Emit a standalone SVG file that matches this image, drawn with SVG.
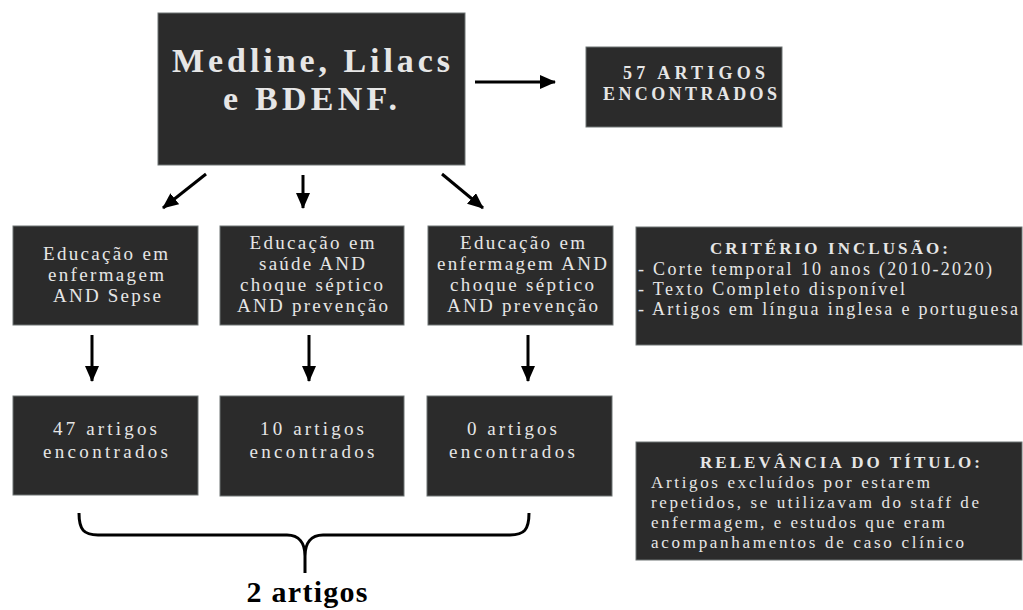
<svg xmlns="http://www.w3.org/2000/svg" width="1023" height="610" viewBox="0 0 1023 610">
<defs>
<marker id="ah" markerUnits="userSpaceOnUse" markerWidth="16" markerHeight="14" refX="15" refY="7" orient="auto">
<path d="M0,0 L16,7 L0,14 Z" fill="#000"/>
</marker>
<style>
.box{fill:#2b2b2b;stroke:#6e7474;stroke-width:1}
.t{font-family:"Liberation Serif","Times New Roman",serif;fill:#e6e6e6;text-anchor:middle;font-size:19px}
.b{font-weight:bold}
.l{text-anchor:start}
.c{stroke:#000;stroke-width:3;fill:none}
.a{stroke:#000;stroke-width:3;fill:none;marker-end:url(#ah)}
</style>
</defs>
<rect width="1023" height="610" fill="#fff"/>
<g id="main">
<rect class="box" x="158" y="13" width="307" height="152"/>
<text class="t b" x="311" y="72" textLength="278" lengthAdjust="spacing" style="font-size:34px">Medline, Lilacs</text>
<text class="t b" x="310" y="110" textLength="174" lengthAdjust="spacing" style="font-size:34px">e BDENF.</text>
</g>
<g id="total">
<rect class="box" x="586" y="47" width="196" height="80"/>
<text class="t b" x="694" y="79" textLength="142" lengthAdjust="spacing" style="font-size:18px">57 ARTIGOS</text>
<text class="t b" x="690" y="100" textLength="174" lengthAdjust="spacing" style="font-size:18px">ENCONTRADOS</text>
</g>
<g id="q1">
<rect class="box" x="13" y="226" width="185" height="99"/>
<text class="t" x="105.5" y="260" textLength="125" lengthAdjust="spacing">Educação em</text>
<text class="t" x="106" y="281" textLength="116" lengthAdjust="spacing">enfermagem</text>
<text class="t" x="107" y="302" textLength="108" lengthAdjust="spacing">AND Sepse</text>
</g>
<g id="q2">
<rect class="box" x="220" y="226" width="184" height="99"/>
<text class="t" x="312" y="249" textLength="125" lengthAdjust="spacing">Educação em</text>
<text class="t" x="312" y="270" textLength="106" lengthAdjust="spacing">saúde AND</text>
<text class="t" x="311.5" y="291" textLength="143" lengthAdjust="spacing">choque séptico</text>
<text class="t" x="312.5" y="312" textLength="151" lengthAdjust="spacing">AND prevenção</text>
</g>
<g id="q3">
<rect class="box" x="428" y="226" width="185" height="99"/>
<text class="t" x="522.5" y="249" textLength="125" lengthAdjust="spacing">Educação em</text>
<text class="t" x="522" y="270" textLength="170" lengthAdjust="spacing">enfermagem AND</text>
<text class="t" x="522" y="291" textLength="144" lengthAdjust="spacing">choque séptico</text>
<text class="t" x="522.5" y="312" textLength="151" lengthAdjust="spacing">AND prevenção</text>
</g>
<g id="criteria">
<rect class="box" x="636" y="227" width="386" height="118"/>
<text class="t b" x="829" y="254" textLength="238" lengthAdjust="spacing" style="font-size:17px">CRITÉRIO INCLUSÃO:</text>
<text class="t l" x="638" y="275" textLength="354" lengthAdjust="spacing" style="font-size:18px">- Corte temporal 10 anos (2010-2020)</text>
<text class="t l" x="638" y="295" textLength="267" lengthAdjust="spacing" style="font-size:18px">- Texto Completo disponível</text>
<text class="t l" x="638" y="315" textLength="380" lengthAdjust="spacing" style="font-size:18px">- Artigos em língua inglesa e portuguesa</text>
</g>
<g id="r1">
<rect class="box" x="13" y="396" width="185" height="99"/>
<text class="t" x="105" y="435" textLength="104" lengthAdjust="spacing">47 artigos</text>
<text class="t" x="105.5" y="458" textLength="125" lengthAdjust="spacing">encontrados</text>
</g>
<g id="r2">
<rect class="box" x="220" y="396" width="184" height="100"/>
<text class="t" x="312" y="435" textLength="104" lengthAdjust="spacing">10 artigos</text>
<text class="t" x="312" y="458" textLength="125" lengthAdjust="spacing">encontrados</text>
</g>
<g id="r3">
<rect class="box" x="427" y="396" width="185" height="100"/>
<text class="t" x="512" y="435" textLength="90" lengthAdjust="spacing">0 artigos</text>
<text class="t" x="512" y="458" textLength="126" lengthAdjust="spacing">encontrados</text>
</g>
<g id="relevance">
<rect class="box" x="636" y="442" width="386" height="118"/>
<text class="t b" x="840" y="468" textLength="280" lengthAdjust="spacing" style="font-size:17px">RELEVÂNCIA DO TÍTULO:</text>
<text class="t l" x="651" y="488" textLength="279" lengthAdjust="spacing" style="font-size:17px">Artigos excluídos por estarem</text>
<text class="t l" x="651" y="508" textLength="328" lengthAdjust="spacing" style="font-size:17px">repetidos, se utilizavam do staff de</text>
<text class="t l" x="651" y="528" textLength="294" lengthAdjust="spacing" style="font-size:17px">enfermagem, e estudos que eram</text>
<text class="t l" x="651" y="548" textLength="313" lengthAdjust="spacing" style="font-size:17px">acompanhamentos de caso clínico</text>
</g>
<g id="result">
<text x="307" y="602" text-anchor="middle" font-family="'Liberation Serif','Times New Roman',serif" font-weight="bold" font-size="30" fill="#000" textLength="121" lengthAdjust="spacing">2 artigos</text>
</g>
<g id="connectors">
<line class="a" x1="475" y1="82" x2="555" y2="82"/>
<line class="a" x1="206" y1="174" x2="163" y2="208"/>
<line class="a" x1="303" y1="175" x2="303" y2="208"/>
<line class="a" x1="442" y1="174" x2="483" y2="208"/>
<line class="a" x1="92" y1="335" x2="92" y2="381"/>
<line class="a" x1="309" y1="335" x2="309" y2="381"/>
<line class="a" x1="528" y1="335" x2="528" y2="381"/>
<path class="c" d="M79,513 C79,530 84,535 98,535 L287,535 C299,535 305,543 305,556 L305,573 M305,556 C305,543 311,535 323,535 L510,535 C524,535 529,530 529,513"/>
</g>
</svg>
